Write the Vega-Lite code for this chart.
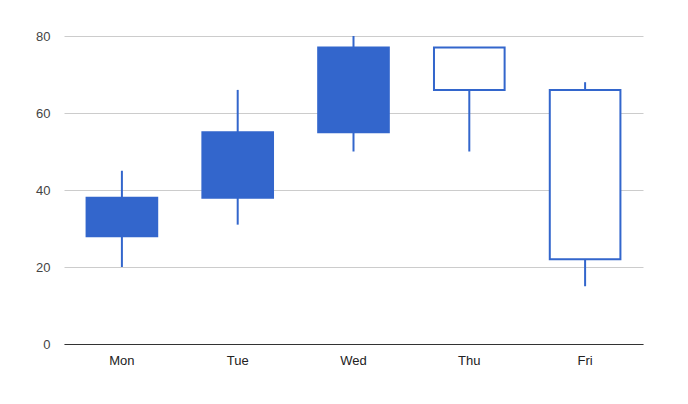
{
  "$schema": "https://vega.github.io/schema/vega-lite/v6.json",
  "autosize": {"type": "none"},
  "padding": {"left": 64, "top": 36, "right": 45, "bottom": 60},
  "width": 579,
  "height": 308,
  "background": "white",
  "config": {
    "view": {"stroke": null},
    "font": "Liberation Sans"
  },
  "data": {
    "values": [
      {"day": "Mon", "low": 20, "open": 28, "close": 38, "high": 45},
      {"day": "Tue", "low": 31, "open": 38, "close": 55, "high": 66},
      {"day": "Wed", "low": 50, "open": 55, "close": 77, "high": 80},
      {"day": "Thu", "low": 50, "open": 77, "close": 66, "high": 77},
      {"day": "Fri", "low": 15, "open": 66, "close": 22, "high": 68}
    ]
  },
  "encoding": {
    "x": {
      "field": "day",
      "type": "nominal",
      "sort": null,
      "scale": {"paddingInner": 0.39, "paddingOuter": 0.195},
      "axis": {
        "title": null,
        "labelAngle": 0,
        "ticks": false,
        "domain": true,
        "domainColor": "#333333",
        "domainWidth": 1,
        "labelFontSize": 13,
        "labelColor": "#222222",
        "labelPadding": 10
      }
    }
  },
  "layer": [
    {
      "mark": {"type": "rule", "color": "#3366cc", "strokeWidth": 2},
      "encoding": {
        "y": {
          "field": "low",
          "type": "quantitative",
          "scale": {"domain": [0, 80], "nice": false},
          "axis": {
            "title": null,
            "values": [0, 10, 20, 30, 40, 50, 60, 70, 80],
            "labelExpr": "datum.value % 20 === 0 ? datum.label : ''",
            "grid": true,
            "gridColor": {"condition": {"test": "datum.value % 20 === 0", "value": "#cccccc"}, "value": "#ebebeb"},
            "domain": false,
            "ticks": false,
            "labelFontSize": 13,
            "labelColor": "#444444",
            "labelPadding": 14
          }
        },
        "y2": {"field": "high"}
      }
    },
    {
      "mark": {"type": "bar", "stroke": "#3366cc", "strokeWidth": 2},
      "encoding": {
        "y": {"field": "open", "type": "quantitative"},
        "y2": {"field": "close"},
        "fill": {
          "condition": {"test": "datum.close > datum.open", "value": "#3366cc"},
          "value": "#ffffff"
        }
      }
    }
  ]
}
